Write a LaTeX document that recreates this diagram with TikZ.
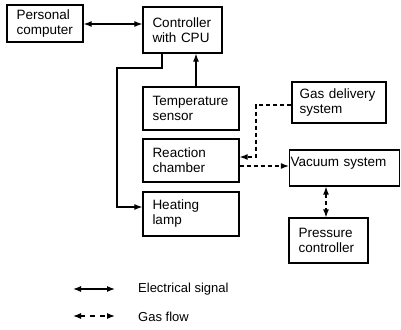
\documentclass[tikz,border=0pt]{standalone}
\usepackage{fontspec}
\setmainfont{Liberation Sans}
\usetikzlibrary{arrows.meta,calc}
\begin{document}
\begin{tikzpicture}[x=1pt,y=-1pt,
  box/.style={draw, line width=1.3pt, rectangle, inner sep=0pt, align=left,
    font=\fontsize{13.5}{15}\selectfont},
  tip/.style={},
  elec/.style={line width=1.2pt, -{Latex[length=8pt,width=6pt]}},
  elecboth/.style={line width=1.2pt, {Latex[length=8pt,width=6pt]}-{Latex[length=8pt,width=6pt]}},
  gasline/.style={line width=1.2pt, dash pattern=on 4pt off 3pt, -{Latex[length=8pt,width=6pt]}},
  gasboth/.style={line width=1.2pt, dash pattern=on 4pt off 3pt, {Latex[length=8pt,width=6pt]}-{Latex[length=8pt,width=6pt]}},
  legtext/.style={anchor=west, inner sep=0pt, font=\fontsize{13}{14}\selectfont}]
\useasboundingbox (0,0) rectangle (401,329);
% boxes
\node[box, minimum width=76pt, minimum height=37pt, text width=57pt] (pc) at (45,23.5) {Personal\\computer};
\node[box, minimum width=79pt, minimum height=46pt, text width=60pt] (ctrl) at (182.5,30) {Controller\\with CPU};
\node[box, minimum width=96pt, minimum height=43pt, text width=77pt] (temp) at (191,108.5) {Temperature\\sensor};
\node[box, minimum width=96pt, minimum height=43pt, text width=77pt] (react) at (191,160.5) {Reaction\\chamber};
\node[box, minimum width=96pt, minimum height=44pt, text width=77pt] (lamp) at (191,214) {Heating\\lamp};
\node[box, minimum width=94pt, minimum height=41pt, text width=79pt] (gas) at (339,102.5) {Gas delivery\\system};
\node[box, minimum width=110pt, minimum height=36pt, text width=108pt, text depth=12pt] (vac) at (344.5,168) {Vacuum system};
\node[box, minimum width=79pt, minimum height=45pt, text width=60pt] (pres) at (328.5,240.5) {Pressure\\controller};
% electrical connectors
\coordinate (pcA) at ([yshift=-0.5pt]pc.east);
\draw[elecboth] (pcA) -- (ctrl.west |- pcA);
\coordinate (c1) at (117,68);
\draw[elec] ([xshift=-20.5pt]ctrl.south) |- (c1) |- ([yshift=7pt]lamp.west);
\coordinate (tA) at ([xshift=5pt]temp.north);
\draw[elec] (tA) -- (tA |- ctrl.south);
% gas connectors
\coordinate (g1) at (256,157);
\draw[gasline] ([yshift=-2.5pt]gas.west) -| (g1) -- (react.east |- g1);
\coordinate (rA) at ([yshift=-5.5pt]react.east);
\draw[gasline] (rA) -- (vac.west |- rA);
\coordinate (pA) at ([xshift=-2.5pt]pres.north);
\draw[gasboth] (vac.south -| pA) -- (pA);
% legend
\coordinate (l1a) at (73,289);
\coordinate (l1b) at (115,289);
\coordinate (l2a) at (73,316);
\coordinate (l2b) at (115,316);
\draw[elecboth] (l1a) -- (l1b);
\draw[gasboth, dash pattern=on 5pt off 5pt] (l2a) -- (l2b);
\node[legtext] (le) at (138,289) {Electrical signal};
\node[legtext] (lg) at (138,317) {Gas flow};
\end{tikzpicture}
\end{document}
